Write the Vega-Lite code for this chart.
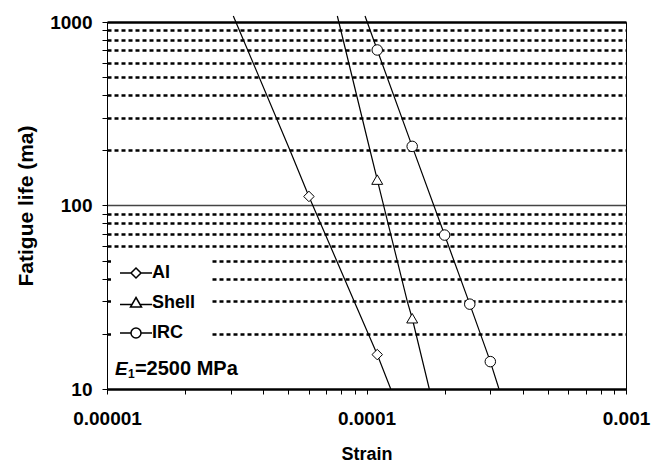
{
  "$schema": "https://vega.github.io/schema/vega-lite/v6.json",
  "width": 519,
  "height": 367,
  "autosize": {"type": "none"},
  "padding": {"left": 107, "top": 22, "right": 36, "bottom": 76},
  "background": "white",
  "config": {
    "font": "Liberation Sans",
    "view": {"stroke": "black", "strokeWidth": 1}
  },
  "datasets": {
    "curves": [
      {"series": "AI", "strain": 3.067e-5, "life": 1078},
      {"series": "AI", "strain": 5.07e-5, "life": 200},
      {"series": "AI", "strain": 6.0e-5, "life": 112},
      {"series": "AI", "strain": 8.97e-5, "life": 30},
      {"series": "AI", "strain": 1.1e-4, "life": 15.4},
      {"series": "AI", "strain": 1.24e-4, "life": 10},
      {"series": "Shell", "strain": 7.72e-5, "life": 1078},
      {"series": "Shell", "strain": 1.0316e-4, "life": 200},
      {"series": "Shell", "strain": 1.1e-4, "life": 138.4},
      {"series": "Shell", "strain": 1.436e-4, "life": 30},
      {"series": "Shell", "strain": 1.5e-4, "life": 24.3},
      {"series": "Shell", "strain": 1.746e-4, "life": 10},
      {"series": "IRC", "strain": 9.87e-5, "life": 1078},
      {"series": "IRC", "strain": 1.1e-4, "life": 704},
      {"series": "IRC", "strain": 1.5e-4, "life": 210},
      {"series": "IRC", "strain": 2.0e-4, "life": 69},
      {"series": "IRC", "strain": 2.5e-4, "life": 29},
      {"series": "IRC", "strain": 3.0e-4, "life": 14.1},
      {"series": "IRC", "strain": 3.24e-4, "life": 10}
    ],
    "markers": [
      {"series": "AI", "strain": 6.0e-5, "life": 112},
      {"series": "AI", "strain": 1.1e-4, "life": 15.4},
      {"series": "Shell", "strain": 1.1e-4, "life": 138.4},
      {"series": "Shell", "strain": 1.5e-4, "life": 24.3},
      {"series": "IRC", "strain": 1.1e-4, "life": 704},
      {"series": "IRC", "strain": 1.5e-4, "life": 210},
      {"series": "IRC", "strain": 2.0e-4, "life": 69},
      {"series": "IRC", "strain": 2.5e-4, "life": 29},
      {"series": "IRC", "strain": 3.0e-4, "life": 14.1}
    ],
    "note": [{"strain": 1.073e-5, "life": 11.9}]
  },
  "encoding": {
    "x": {
      "field": "strain",
      "type": "quantitative",
      "scale": {"type": "log", "domain": [0.00001, 0.001], "nice": false},
      "axis": {
        "title": "Strain",
        "values": [0.00001, 0.00002, 0.00003, 0.00004, 0.00005, 0.00006, 0.00007, 0.00008, 0.00009, 0.0001, 0.0002, 0.0003, 0.0004, 0.0005, 0.0006, 0.0007, 0.0008, 0.0009, 0.001],
        "labelExpr": "datum.value == 0.00001 ? '0.00001' : datum.value == 0.0001 ? '0.0001' : datum.value == 0.001 ? '0.001' : ''",
        "grid": false,
        "domainColor": "black",
        "tickColor": "black",
        "tickSize": 5,
        "labelFontSize": 19,
        "labelFontWeight": "bold",
        "labelColor": "black",
        "labelPadding": 15,
        "labelFlush": false,
        "labelOverlap": false,
        "titleFontSize": 18,
        "titleFontWeight": "bold",
        "titleColor": "black",
        "titlePadding": 17
      }
    },
    "y": {
      "field": "life",
      "type": "quantitative",
      "scale": {"type": "log", "domain": [10, 1000], "nice": false},
      "axis": {
        "title": "Fatigue life (ma)",
        "values": [10, 20, 30, 40, 50, 60, 70, 80, 90, 100, 200, 300, 400, 500, 600, 700, 800, 900, 1000],
        "labelExpr": "datum.value == 10 ? '10' : datum.value == 100 ? '100' : datum.value == 1000 ? '1000' : ''",
        "grid": true,
        "gridColor": {"condition": {"test": "datum.value == 100", "value": "#444444"}, "value": "#000000"},
        "gridWidth": {"condition": {"test": "datum.value == 100", "value": 1.5}, "value": 2.5},
        "gridDash": {"condition": {"test": "datum.value == 100 || datum.value == 10 || datum.value == 1000", "value": []}, "value": [4, 3]},
        "gridOpacity": 1,
        "domainColor": "black",
        "tickColor": "black",
        "tickSize": 5,
        "labelFontSize": 19,
        "labelFontWeight": "bold",
        "labelColor": "black",
        "labelPadding": 10,
        "labelOverlap": false,
        "labelFlush": false,
        "titleFontSize": 21,
        "titleFontWeight": "bold",
        "titleColor": "black",
        "titlePadding": 13
      }
    }
  },
  "layer": [
    {
      "data": {"name": "curves"},
      "mark": {"type": "line", "color": "black", "strokeWidth": 1.2, "clip": false},
      "encoding": {"detail": {"field": "series", "type": "nominal"}}
    },
    {
      "data": {"name": "markers"},
      "transform": [{"filter": "datum.series == 'AI'"}],
      "mark": {"type": "point", "shape": "diamond", "filled": true, "fill": "white", "stroke": "black", "strokeWidth": 1, "size": 110, "opacity": 1}
    },
    {
      "data": {"name": "markers"},
      "transform": [{"filter": "datum.series == 'Shell'"}],
      "mark": {"type": "point", "shape": "triangle-up", "filled": true, "fill": "white", "stroke": "black", "strokeWidth": 1, "size": 120, "opacity": 1}
    },
    {
      "data": {"name": "markers"},
      "transform": [{"filter": "datum.series == 'IRC'"}],
      "mark": {"type": "point", "shape": "circle", "filled": true, "fill": "white", "stroke": "black", "strokeWidth": 1, "size": 110, "opacity": 1}
    },
    {
      "data": {"name": "curves"},
      "transform": [{"filter": "datum.life > 1000"}],
      "mark": {"type": "point", "filled": true, "fill": "white", "stroke": "black", "strokeWidth": 1, "size": 100, "opacity": 1, "clip": true},
      "encoding": {
        "shape": {
          "field": "series",
          "type": "nominal",
          "scale": {
            "domain": ["AI", "Shell", "IRC"],
            "range": [
              "M-3.2,0H-1M1,0H3.2M0,-1L1,0L0,1L-1,0Z",
              "M-3.2,0.3H-0.75M0.75,0.3H3.2M0,-1.1L1.1,0.8L-1.1,0.8Z",
              "M-3.2,0H-1M1,0H3.2M1,0A1,1 0 1,1 -1,0A1,1 0 1,1 1,0Z"
            ]
          },
          "legend": {
            "title": null,
            "orient": "none",
            "legendX": 4,
            "legendY": 226,
            "fillColor": "white",
            "padding": 16,
            "rowPadding": 12,
            "symbolSize": 100,
            "labelOffset": 7,
            "labelFontSize": 18,
            "labelFontWeight": "bold"
          }
        }
      }
    },
    {
      "data": {"name": "note"},
      "mark": {"type": "text", "text": "E", "fontStyle": "italic", "fontSize": 19, "fontWeight": "bold", "align": "left", "baseline": "alphabetic", "color": "black"}
    },
    {
      "data": {"name": "note"},
      "mark": {"type": "text", "text": "1", "fontSize": 12, "fontWeight": "bold", "align": "left", "baseline": "alphabetic", "dx": 13, "dy": 3, "color": "black"}
    },
    {
      "data": {"name": "note"},
      "mark": {"type": "text", "text": "=2500 MPa", "fontSize": 20, "fontWeight": "bold", "align": "left", "baseline": "alphabetic", "dx": 20, "color": "black"}
    }
  ]
}
